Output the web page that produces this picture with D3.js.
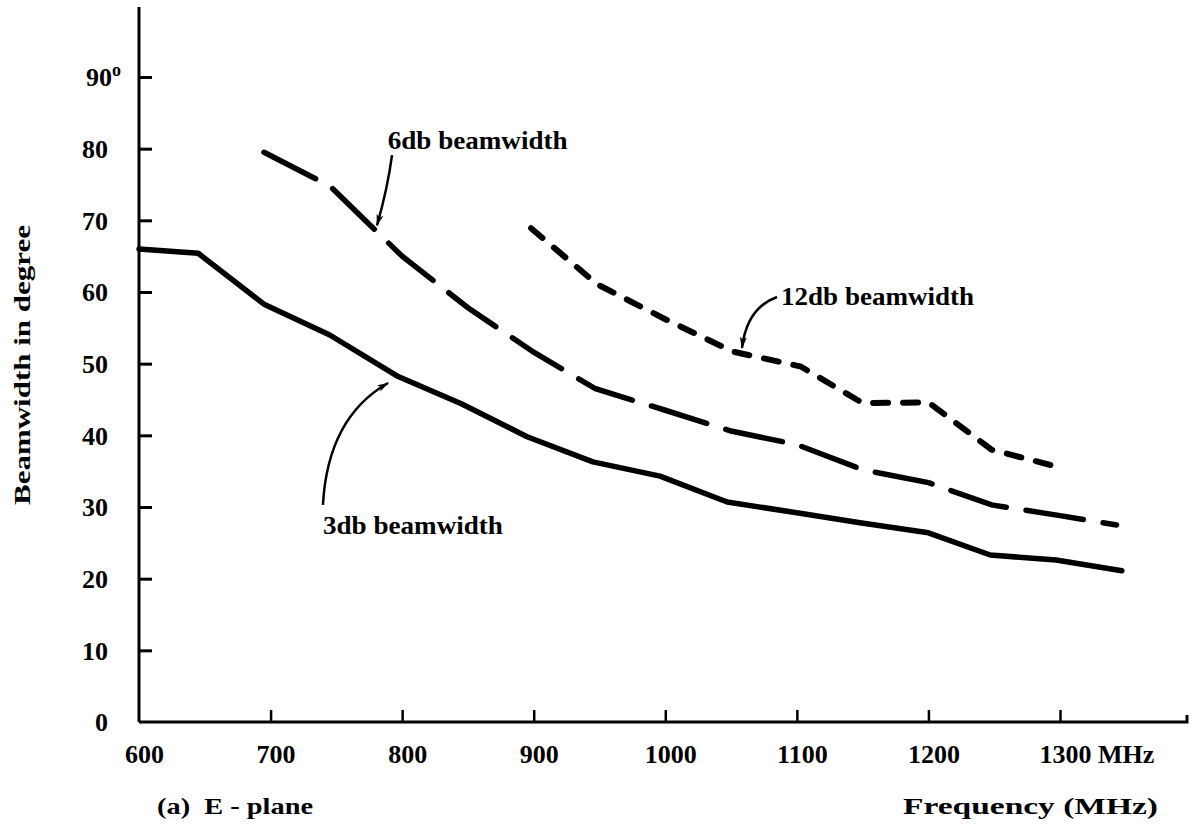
<!DOCTYPE html>
<html lang="en">
<head>
<meta charset="UTF-8">
<title>Beamwidth vs Frequency (E-plane)</title>
<script src="https://d3js.org/d3.v7.min.js"></script>
<style>
    body { margin: 0; background: #fff; }
    svg { display: block; }
    text { font-family: "Liberation Serif", "DejaVu Serif", serif; font-weight: bold; fill: #000; }
</style>
</head>
<body>
<script>
    // frequency (MHz) / beamwidth (degree)
    const freq3 = [600, 645, 695, 745, 797, 845, 895, 945, 996, 1047, 1100, 1148, 1200, 1247, 1297, 1347];
    const bw3   = [66, 65.4, 58.3, 54, 48.2, 44.4, 39.8, 36.3, 34.3, 30.7, 29.2, 27.8, 26.4, 23.3, 22.6, 21.1];

    const freq6 = [695, 745, 800, 850, 900, 947, 1000, 1050, 1100, 1150, 1200, 1248, 1300, 1343];
    const bw6   = [79.5, 74.8, 65, 57.8, 51.6, 46.5, 43.5, 40.6, 38.7, 35.2, 33.4, 30.3, 28.8, 27.5];

    const freq12 = [898, 948, 1000, 1051, 1103, 1150, 1200, 1248, 1296];
    const bw12   = [68.9, 61.1, 56.2, 51.7, 49.6, 44.5, 44.6, 38.0, 35.7];

    const xTicks = [600, 700, 800, 900, 1000, 1100, 1200, 1300];
    const yTicks = [0, 10, 20, 30, 40, 50, 60, 70, 80, 90];

    const width = 1198, height = 833;

    const x = d3.scaleLinear().domain([600, 1300]).range([139, 1060]);
    const y = d3.scaleLinear().domain([0, 90]).range([722, 77]);

    const svg = d3.select("body").append("svg")
        .attr("width", width).attr("height", height);

    svg.append("defs").append("marker")
        .attr("id", "head")
        .attr("viewBox", "0 0 12 8")
        .attr("refX", 11).attr("refY", 4)
        .attr("markerWidth", 12).attr("markerHeight", 8)
        .attr("markerUnits", "userSpaceOnUse")
        .attr("orient", "auto")
        .append("path")
        .attr("d", "M0,0.5 L12,4 L0,7.5 L3,4 Z")
        .attr("fill", "#000");

    // axes lines (drawn a bit longer than the ticks, like the original)
    svg.append("line")
        .attr("x1", x(600)).attr("x2", x(600))
        .attr("y1", y(0)).attr("y2", 7)
        .attr("stroke", "#000").attr("stroke-width", 3);
    svg.append("path")
        .attr("d", `M${x(600)},${y(0)} H1187 V${y(0) - 7}`)
        .attr("fill", "none")
        .attr("stroke", "#000").attr("stroke-width", 3);

    // y axis ticks + labels
    const yAxis = svg.append("g")
        .attr("transform", `translate(${x(600)},0)`)
        .call(d3.axisLeft(y).tickValues(yTicks).tickSizeInner(-13).tickSizeOuter(0).tickPadding(31));
    yAxis.select(".domain").remove();
    yAxis.selectAll(".tick line").attr("stroke-width", 3)
        .filter(d => d === 0).remove();
    yAxis.selectAll(".tick text")
        .attr("font-size", 26).attr("font-family", null).attr("dy", "0.34em");
    yAxis.selectAll(".tick").filter(d => d === 90).select("text")
        .attr("dx", 13)
        .append("tspan").attr("dy", "-0.55em").attr("font-size", 18).text("o");

    // x axis ticks + labels
    const xAxis = svg.append("g")
        .attr("transform", `translate(0,${y(0)})`)
        .call(d3.axisBottom(x).tickValues(xTicks).tickFormat(d3.format("d"))
            .tickSizeInner(-12).tickSizeOuter(0).tickPadding(23));
    xAxis.select(".domain").remove();
    xAxis.selectAll(".tick line").attr("stroke-width", 2.5)
        .filter(d => d === 600).remove();
    xAxis.selectAll(".tick text")
        .attr("font-size", 26).attr("font-family", null).attr("dx", 5);
    svg.append("text")
        .attr("x", x(1300) + 38).attr("y", y(0) + 41)
        .attr("font-size", 26).text("MHz");

    // curves
    const line = d3.line().x(d => x(d[0])).y(d => y(d[1]));

    svg.append("path")
        .datum(d3.zip(freq3, bw3))
        .attr("d", line)
        .attr("fill", "none").attr("stroke", "#000")
        .attr("stroke-width", 5.5).attr("stroke-linejoin", "round").attr("stroke-linecap", "round");

    svg.append("path")
        .datum(d3.zip(freq6, bw6))
        .attr("d", line)
        .attr("fill", "none").attr("stroke", "#000")
        .attr("stroke-width", 5.5).attr("stroke-linecap", "round")
        .attr("stroke-dasharray", "58,20");

    svg.append("path")
        .datum(d3.zip(freq12, bw12))
        .attr("d", line)
        .attr("fill", "none").attr("stroke", "#000")
        .attr("stroke-width", 6).attr("stroke-linecap", "round")
        .attr("stroke-dasharray", "15,15");

    // annotations: label position and curved arrow (start, control, end), in data units
    const notes = [
        { label: "6db beamwidth", at: [789, 80.0], len: 180,
          arrow: [[792.3, 79.1], [789, 74.5], [780.9, 69.3]] },
        { label: "12db beamwidth", at: [1088, 58.2], len: 193,
          arrow: [[1084.9, 59.3], [1062, 57.8], [1058.3, 52.2]] },
        { label: "3db beamwidth", at: [739.8, 26.3], len: 180,
          arrow: [[739.8, 30.3], [743.5, 42.5], [789.3, 47.3]] }
    ];

    notes.forEach(n => {
        svg.append("text")
            .attr("x", x(n.at[0])).attr("y", y(n.at[1]))
            .attr("font-size", 25)
            .attr("textLength", n.len).attr("lengthAdjust", "spacingAndGlyphs")
            .text(n.label);
        const p = d3.path();
        const [a, c, b] = n.arrow;
        p.moveTo(x(a[0]), y(a[1]));
        p.quadraticCurveTo(x(c[0]), y(c[1]), x(b[0]), y(b[1]));
        svg.append("path")
            .attr("d", p.toString())
            .attr("fill", "none").attr("stroke", "#000").attr("stroke-width", 2.5)
            .attr("marker-end", "url(#head)");
    });

    // titles
    svg.append("text")
        .attr("transform", "translate(30,365) rotate(-90)")
        .attr("text-anchor", "middle")
        .attr("font-size", 24)
        .attr("textLength", 280).attr("lengthAdjust", "spacingAndGlyphs")
        .text("Beamwidth in degree");

    svg.append("text")
        .attr("x", 157).attr("y", 814)
        .attr("font-size", 24)
        .attr("textLength", 156).attr("lengthAdjust", "spacingAndGlyphs")
        .attr("xml:space", "preserve")
        .text("(a)  E - plane");

    svg.append("text")
        .attr("x", 903).attr("y", 814)
        .attr("font-size", 24)
        .attr("textLength", 255).attr("lengthAdjust", "spacingAndGlyphs")
        .text("Frequency (MHz)");
</script>
</body>
</html>
